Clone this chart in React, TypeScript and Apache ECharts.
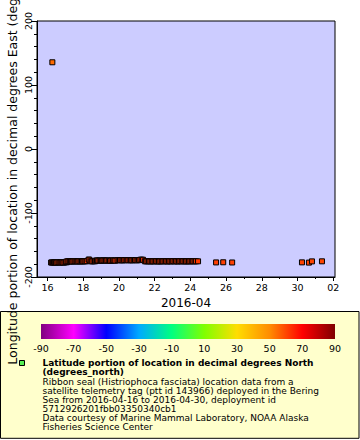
import React, { useEffect, useRef } from "react";
import * as echarts from "echarts";

// Day of April 2016 (values > 30 are in May)
const days = [
  16.27,
  16.20, 16.24, 16.30, 16.36, 16.41, 16.47, 16.55, 16.62, 16.68, 16.74, 16.80, 16.88, 16.95, 17.02, 17.08,
  17.05, 17.12, 17.18, 17.25, 17.31, 17.38, 17.45, 17.52, 17.58, 17.66, 17.72, 17.79, 17.86, 17.93, 18.00,
  18.07, 18.13, 18.20, 18.30, 18.35, 18.42, 18.50, 18.58, 18.66,
  18.70, 18.77, 18.84, 18.92, 18.99, 19.06, 19.13, 19.20, 19.28, 19.35, 19.43, 19.50, 19.58, 19.66, 19.74, 19.80,
  19.92, 19.99, 20.06, 20.14, 20.21, 20.29, 20.37, 20.44, 20.52, 20.60, 20.67, 20.75, 20.83, 20.90, 20.98,
  21.05, 21.12, 21.20, 21.28, 21.35,
  21.45, 21.52, 21.60, 21.68, 21.76, 21.84, 21.92, 22.00, 22.08, 22.16, 22.24, 22.32, 22.40, 22.48, 22.56,
  22.64, 22.72, 22.80, 22.88, 22.96, 23.04, 23.12, 23.20, 23.28, 23.36, 23.44, 23.52, 23.60, 23.68, 23.76,
  23.84, 23.92, 24.00, 24.08, 24.16, 24.24, 24.32, 24.43,
  25.44, 25.84, 26.34, 30.25, 30.64, 30.81, 31.37,
];
// Longitude, degrees East
const lons = [
  135.5,
  -177.4, -177.2, -177.5, -177.1, -177.3, -177.6, -177.2, -177.0, -177.4, -177.3, -177.1, -177.5, -177.2, -176.9, -177.0,
  -175.8, -175.6, -175.4, -175.7, -175.5, -175.9, -175.6, -175.3, -175.5, -175.8, -175.6, -175.4, -175.7, -175.5, -175.6,
  -175.3, -175.5, -175.2, -172.8, -173.0, -175.4, -175.6, -175.3, -175.5,
  -174.3, -174.1, -174.4, -174.2, -174.5, -174.3, -174.0, -174.2, -174.4, -174.1, -174.3, -174.6, -174.2, -174.0, -174.3, -174.4,
  -173.8, -173.6, -173.9, -173.7, -174.0, -173.8, -173.5, -173.7, -173.9, -173.6, -173.8, -174.0, -173.7, -173.5, -173.8,
  -173.9, -173.6, -173.0, -172.9, -173.1,
  -175.4, -175.6, -175.3, -175.5, -175.7, -175.4, -175.6, -175.5, -175.3, -175.6, -175.8, -175.5, -175.4, -175.6, -175.3,
  -175.5, -175.7, -175.4, -175.6, -175.5, -175.3, -175.6, -175.4, -175.7, -175.5, -175.3, -175.6, -175.4, -175.5, -175.7,
  -175.4, -175.6, -175.5, -175.3, -175.6, -175.4, -175.5, -175.5,
  -177.2, -177.0, -177.3, -177.1, -177.5, -175.6, -175.5,
];
// Latitude, degrees North (colour)
const lats = [
  55,
  61.4, 61.5, 61.4, 61.6, 61.5, 61.6, 61.7, 61.6, 61.7, 61.8, 61.7, 61.8, 61.9, 61.8, 61.9,
  61.9, 62.0, 61.9, 62.0, 62.1, 62.0, 62.1, 62.2, 62.1, 62.2, 62.1, 62.2, 62.3, 62.2, 62.3,
  62.2, 62.3, 62.4, 62.5, 62.5, 62.4, 62.3, 62.4, 62.3,
  62.4, 62.5, 62.4, 62.5, 62.6, 62.5, 62.6, 62.5, 62.6, 62.7, 62.6, 62.7, 62.6, 62.7, 62.8, 62.7,
  62.8, 62.7, 62.8, 62.9, 62.8, 62.9, 62.8, 62.9, 63.0, 62.9, 62.8, 62.9, 62.8, 62.9, 62.8,
  62.7, 62.8, 62.9, 62.9, 62.8,
  62.6, 62.5, 62.6, 62.5, 62.4, 62.5, 62.4, 62.3, 62.4, 62.3, 62.2, 62.3, 62.2, 62.3, 62.2,
  62.1, 62.2, 62.1, 62.0, 62.1, 62.0, 61.9, 62.0, 61.9, 61.8, 61.9, 61.8, 61.7, 61.8, 61.7,
  61.6, 61.7, 61.6, 61.5, 61.6, 61.5, 61.4, 61.5,
  61.2, 61.0, 60.8, 60.5, 60.4, 60.3, 60.2,
];

const xMajorTicks = [16, 18, 20, 22, 24, 26, 28, 30, 32];
const xMinorTicks = [17, 19, 21, 23, 25, 27, 29, 31];
const colorbarTicks = [-90, -70, -50, -30, -10, 10, 30, 50, 70, 90];
const palette = [
  "#800080", "#ff00ff", "#0000ff", "#00aaff", "#00ff80",
  "#80ff00", "#ffdd00", "#ff8c00", "#ff0000", "#800000",
];
const yTitle = "Longitude portion of location in decimal degrees East (degrees_east)";
const xTitle = "2016-04";
const legendBold = [
  "Latitude portion of location in decimal degrees North",
  "(degrees_north)",
];
const legendLines = [
  "Ribbon seal (Histriophoca fasciata) location data from a",
  "satellite telemetry tag (ptt id 143966) deployed in the Bering",
  "Sea from 2016-04-16 to 2016-04-30, deployment id",
  "5712926201fbb03350340cb1",
  "Data courtesy of Marine Mammal Laboratory, NOAA Alaska",
  "Fisheries Science Center",
];

const FONT = "DejaVu Sans";

export default function App() {
  const ref = useRef<HTMLDivElement>(null);
  useEffect(() => {
    if (!ref.current) return;
    const chart = echarts.init(ref.current, null, { renderer: "svg" });
    const cbX = 41, cbW = 294, cbY = 324, cbH = 15;
    const graphics: any[] = [
      {
        type: "rect", z: -10,
        shape: { x: 0.5, y: 311.5, width: 358.5, height: 126.8 },
        style: { fill: "#ffffcc", stroke: "#000", lineWidth: 1 },
      },
      {
        type: "rect", z: 5,
        shape: { x: cbX, y: cbY, width: cbW, height: cbH },
        style: {
          fill: new echarts.graphic.LinearGradient(0, 0, 1, 0,
            palette.map((c, i) => ({ offset: i / (palette.length - 1), color: c }))),
        },
      },
      {
        type: "rect", z: 5,
        shape: { x: 19.5, y: 360.5, width: 5, height: 5 },
        style: { fill: "#55ee55", stroke: "#000", lineWidth: 1 },
      },
      {
        type: "text", z: 20, x: 12.5, y: 149, rotation: Math.PI / 2,
        style: { text: yTitle, font: `12.5px "${FONT}"`, fill: "#000", align: "center", verticalAlign: "middle" },
      },
    ];
    colorbarTicks.forEach((v) => {
      graphics.push({
        type: "text", z: 5,
        x: cbX + ((v + 90) / 180) * cbW, y: 348.3,
        style: { text: String(v), font: `9.5px "${FONT}"`, fill: "#000", align: "center", verticalAlign: "middle" },
      });
    });
    legendBold.forEach((t, i) => {
      graphics.push({
        type: "text", z: 5, x: 42.5, y: 363.3 + 9 * i,
        style: { text: t, font: `bold 9px "${FONT}"`, fill: "#000", align: "left", verticalAlign: "middle" },
      });
    });
    legendLines.forEach((t, i) => {
      graphics.push({
        type: "text", z: 5, x: 42.5, y: 381.7 + 9 * i,
        style: { text: t, font: `9px "${FONT}"`, fill: "#000", align: "left", verticalAlign: "middle" },
      });
    });

    const n = Math.min(days.length, lons.length, lats.length);
    const points = [] as number[][];
    for (let i = 0; i < n; i++) points.push([days[i], lons[i], lats[i]]);

    const xMin = 15.41, xMax = 32.1;
    chart.setOption({
      animation: false,
      textStyle: { fontFamily: FONT },
      grid: {
        left: 37, right: 25, top: 21, bottom: 163,
        outerBoundsMode: "none", containLabel: false,
        show: true, backgroundColor: "#ccccff", borderColor: "#000", borderWidth: 1,
      },
      xAxis: [
        {
          type: "value", min: xMin, max: xMax, position: "bottom",
          name: xTitle, nameLocation: "middle", nameGap: 19,
          nameTextStyle: { fontSize: 12, color: "#000", fontFamily: FONT },
          axisLine: { show: true, onZero: false, lineStyle: { color: "#000" } },
          axisTick: { show: true, length: 4, customValues: xMajorTicks, lineStyle: { color: "#000" } },
          axisLabel: {
            customValues: xMajorTicks, fontSize: 9.5, color: "#000", margin: 5, fontFamily: FONT,
            formatter: (v: number) => (v > 30 ? String(Math.round(v - 30)).padStart(2, "0") : String(Math.round(v))),
          },
          splitLine: { show: false },
        },
        {
          type: "value", min: xMin, max: xMax, position: "bottom",
          axisLine: { show: false, onZero: false },
          axisTick: { show: true, length: 2, customValues: xMinorTicks, lineStyle: { color: "#000" } },
          axisLabel: { show: false },
          splitLine: { show: false },
        },
      ],
      yAxis: {
        type: "value", min: -200, max: 200, interval: 100,
        axisLine: { show: true, onZero: false, lineStyle: { color: "#000" } },
        axisTick: { show: true, length: 6, lineStyle: { color: "#000" } },
        minorTick: { show: true, splitNumber: 5, length: 3, lineStyle: { color: "#000" } },
        axisLabel: { rotate: 90, fontSize: 9.5, color: "#000", margin: 4, fontFamily: FONT },
        splitLine: { show: false },
      },
      visualMap: {
        show: false, type: "continuous", min: -90, max: 90, dimension: 2,
        seriesIndex: 0, inRange: { color: palette },
      },
      graphic: graphics,
      series: [
        {
          type: "scatter", xAxisIndex: 0,
          symbol: "rect", symbolSize: 5,
          itemStyle: { borderColor: "#000", borderWidth: 1, opacity: 1 },
          data: points,
        },
      ],
    });
    return () => chart.dispose();
  }, []);
  return (
    <div
      ref={ref}
      style={{ position: "fixed", left: 0, top: 0, width: 360, height: 440, background: "#fff" }}
    />
  );
}
